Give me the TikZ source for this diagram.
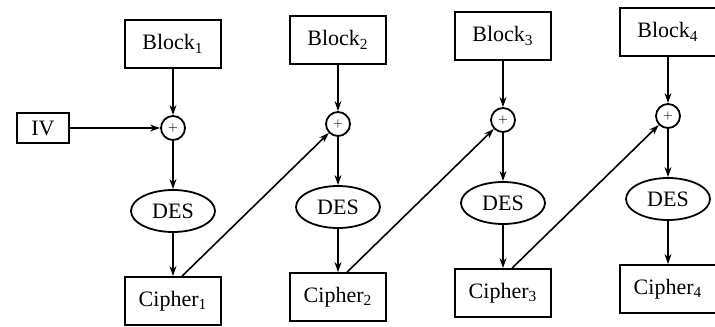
\documentclass[tikz,border=0pt]{standalone}
\usepackage{fontspec}
\setmainfont{Liberation Serif}
\usetikzlibrary{arrows.meta,shapes.geometric}

\tikzset{
  blockbox/.style = {draw, line width=0.9pt, minimum width=48pt, minimum height=24pt, inner sep=0pt},
  ivbox/.style    = {draw, line width=0.9pt, minimum width=26pt, minimum height=15pt, inner sep=0pt},
  desnode/.style  = {draw, ellipse, line width=0.9pt, minimum width=42pt, minimum height=21pt, inner sep=0pt},
  xornode/.style  = {draw, circle, line width=0.9pt, minimum size=12pt, inner sep=0pt, font=\tiny},
  flow/.style     = {line width=0.8pt, -{Stealth[length=5pt,width=3.4pt]}}
}

\begin{document}
\begin{tikzpicture}[x=0.5pt, y=-0.5pt, font=\fontsize{11}{13}\selectfont]
    \useasboundingbox (0,0) rectangle (715,326);

    \node [ivbox] (iv) at (43,128) {IV};

    \node [blockbox] (b1) at (173, 44) {Block\textsubscript{1}};
    \node [xornode ] (x1) at (173,128) {$+$};
    \node [desnode ] (d1) at (173,211) {DES};
    \node [blockbox] (c1) at (173,301) {Cipher\textsubscript{1}};

    \node [blockbox] (b2) at (338, 40) {Block\textsubscript{2}};
    \node [xornode ] (x2) at (338,124) {$+$};
    \node [desnode ] (d2) at (338,207) {DES};
    \node [blockbox] (c2) at (338,297) {Cipher\textsubscript{2}};

    \node [blockbox] (b3) at (503, 36) {Block\textsubscript{3}};
    \node [xornode ] (x3) at (503,120) {$+$};
    \node [desnode ] (d3) at (503,203) {DES};
    \node [blockbox] (c3) at (503,293) {Cipher\textsubscript{3}};

    \node [blockbox] (b4) at (668, 32) {Block\textsubscript{4}};
    \node [xornode ] (x4) at (668,116) {$+$};
    \node [desnode ] (d4) at (668,199) {DES};
    \node [blockbox] (c4) at (668,289) {Cipher\textsubscript{4}};

    \draw [flow] (iv) -- (x1);

    \draw [flow] (b1) -- (x1);
    \draw [flow] (x1) -- (d1);
    \draw [flow] (d1) -- (c1);
    \draw [flow] (c1.70) -- (x2);

    \draw [flow] (b2) -- (x2);
    \draw [flow] (x2) -- (d2);
    \draw [flow] (d2) -- (c2);
    \draw [flow] (c2.70) -- (x3);

    \draw [flow] (b3) -- (x3);
    \draw [flow] (x3) -- (d3);
    \draw [flow] (d3) -- (c3);
    \draw [flow] (c3.70) -- (x4);

    \draw [flow] (b4) -- (x4);
    \draw [flow] (x4) -- (d4);
    \draw [flow] (d4) -- (c4);
  \end{tikzpicture}
\end{document}
